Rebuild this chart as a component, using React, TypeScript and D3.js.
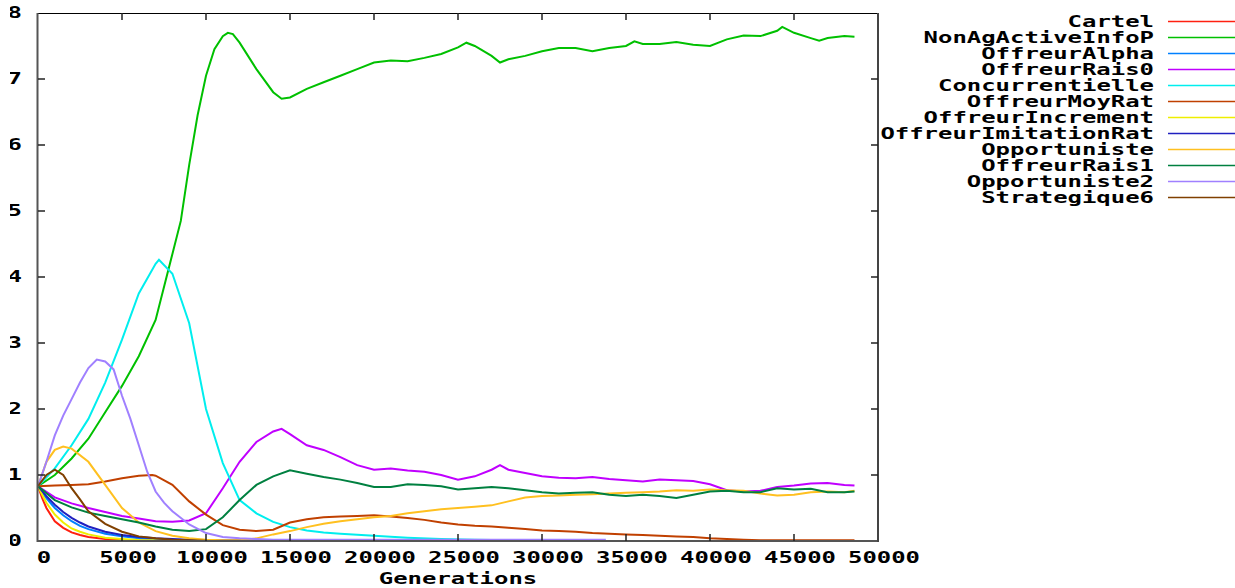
import React, { useEffect, useRef } from "react";
import * as d3 from "d3";

// series: [generation, value]
const cartel = [[0, 0.83], [250, 0.65], [500, 0.5], [1000, 0.3], [1500, 0.2], [2000, 0.13], [2500, 0.09], [3000, 0.06], [4000, 0.03], [5000, 0.015], [6000, 0.008], [7000, 0.004]];
const nonAgActiveInfoP = [[0, 0.83], [1000, 1.0], [2000, 1.25], [3000, 1.55], [4000, 1.95], [5000, 2.35], [6000, 2.8], [7000, 3.35], [8000, 4.35], [8500, 4.85], [9000, 5.7], [9500, 6.45], [10000, 7.05], [10500, 7.45], [11000, 7.65], [11300, 7.7], [11600, 7.68], [12000, 7.55], [13000, 7.15], [14000, 6.8], [14500, 6.7], [15000, 6.72], [16000, 6.85], [17000, 6.95], [18000, 7.05], [19000, 7.15], [20000, 7.25], [21000, 7.28], [22000, 7.27], [23000, 7.32], [24000, 7.38], [25000, 7.48], [25500, 7.55], [26000, 7.5], [27000, 7.35], [27500, 7.25], [28000, 7.3], [29000, 7.35], [30000, 7.42], [31000, 7.47], [32000, 7.47], [33000, 7.42], [34000, 7.47], [35000, 7.5], [35500, 7.57], [36000, 7.53], [37000, 7.53], [38000, 7.56], [39000, 7.52], [40000, 7.5], [41000, 7.6], [42000, 7.66], [43000, 7.65], [44000, 7.73], [44300, 7.79], [45000, 7.7], [46000, 7.62], [46500, 7.58], [47000, 7.62], [48000, 7.65], [48600, 7.64]];
const offreurAlpha = [[0, 0.83], [500, 0.65], [1000, 0.5], [1500, 0.39], [2000, 0.3], [2500, 0.23], [3000, 0.18], [4000, 0.11], [5000, 0.07], [6000, 0.04], [7000, 0.025], [8000, 0.015], [9000, 0.01], [10000, 0.005]];
const offreurRais0 = [[0, 0.83], [1000, 0.66], [2000, 0.57], [3000, 0.5], [4000, 0.44], [5000, 0.38], [6000, 0.34], [7000, 0.3], [8000, 0.29], [9000, 0.31], [10000, 0.42], [11000, 0.8], [12000, 1.2], [13000, 1.5], [14000, 1.66], [14500, 1.7], [15000, 1.62], [16000, 1.45], [17000, 1.38], [18000, 1.27], [19000, 1.15], [20000, 1.08], [21000, 1.1], [22000, 1.07], [23000, 1.05], [24000, 1.0], [25000, 0.93], [26000, 0.98], [27000, 1.08], [27500, 1.15], [28000, 1.08], [29000, 1.03], [30000, 0.98], [31000, 0.96], [32000, 0.95], [33000, 0.97], [34000, 0.94], [35000, 0.92], [36000, 0.9], [37000, 0.93], [38000, 0.92], [39000, 0.91], [40000, 0.86], [41000, 0.77], [42000, 0.75], [43000, 0.76], [44000, 0.82], [45000, 0.84], [46000, 0.87], [47000, 0.88], [48000, 0.85], [48600, 0.84]];
const concurrentielle = [[0, 0.83], [1000, 1.1], [2000, 1.45], [3000, 1.85], [4000, 2.4], [5000, 3.05], [6000, 3.75], [7000, 4.2], [7200, 4.26], [8000, 4.05], [9000, 3.3], [10000, 2.0], [11000, 1.18], [12000, 0.62], [13000, 0.42], [14000, 0.29], [15000, 0.21], [16000, 0.16], [17000, 0.13], [18000, 0.11], [20000, 0.08], [22000, 0.05], [24000, 0.03], [26000, 0.02], [28500, 0.01]];
const offreurMoyRat = [[0, 0.83], [1000, 0.84], [2000, 0.85], [3000, 0.86], [4000, 0.9], [5000, 0.95], [6000, 0.99], [6800, 1.0], [7000, 0.99], [8000, 0.85], [9000, 0.6], [10000, 0.4], [11000, 0.24], [12000, 0.17], [13000, 0.15], [14000, 0.17], [15000, 0.28], [16000, 0.33], [17000, 0.36], [18000, 0.37], [19000, 0.38], [20000, 0.39], [21000, 0.37], [22000, 0.35], [23000, 0.32], [24000, 0.28], [25000, 0.25], [26000, 0.23], [27000, 0.22], [28000, 0.2], [29000, 0.18], [30000, 0.16], [31000, 0.15], [32000, 0.14], [33000, 0.12], [34000, 0.11], [35000, 0.1], [36000, 0.09], [37000, 0.08], [38000, 0.07], [39000, 0.06], [40000, 0.04], [41000, 0.03], [42000, 0.02], [43000, 0.01], [48600, 0.01]];
const offreurIncrement = [[0, 0.83], [250, 0.7], [500, 0.58], [1000, 0.4], [1500, 0.28], [2000, 0.19], [2500, 0.14], [3000, 0.1], [4000, 0.05], [5000, 0.03], [6000, 0.015], [7000, 0.01], [8000, 0.005]];
const offreurImitationRat = [[0, 0.83], [500, 0.68], [1000, 0.55], [1500, 0.44], [2000, 0.35], [2500, 0.28], [3000, 0.22], [4000, 0.14], [5000, 0.09], [6000, 0.06], [7000, 0.04], [8000, 0.03], [9000, 0.02], [10000, 0.015], [11000, 0.01], [15000, 0.01]];
const opportuniste = [[0, 0.83], [500, 1.2], [1000, 1.38], [1500, 1.43], [2000, 1.4], [3000, 1.2], [4000, 0.85], [5000, 0.5], [6000, 0.28], [7000, 0.15], [8000, 0.08], [9000, 0.04], [10000, 0.02], [11000, 0.01], [12000, 0.01], [13000, 0.04], [14000, 0.1], [15000, 0.15], [16000, 0.21], [17000, 0.26], [18000, 0.3], [19000, 0.33], [20000, 0.36], [21000, 0.38], [22000, 0.42], [23000, 0.45], [24000, 0.48], [25000, 0.5], [26000, 0.52], [27000, 0.54], [28000, 0.6], [29000, 0.66], [30000, 0.68], [31000, 0.69], [32000, 0.7], [33000, 0.71], [34000, 0.72], [35000, 0.73], [36000, 0.74], [37000, 0.75], [38000, 0.77], [39000, 0.76], [40000, 0.78], [41000, 0.77], [42000, 0.76], [43000, 0.72], [44000, 0.69], [45000, 0.7], [46000, 0.74], [47000, 0.75], [48000, 0.74], [48600, 0.76]];
const offreurRais1 = [[0, 0.83], [1000, 0.62], [2000, 0.51], [3000, 0.43], [4000, 0.38], [5000, 0.33], [6000, 0.28], [7000, 0.22], [8000, 0.17], [9000, 0.15], [10000, 0.18], [11000, 0.36], [12000, 0.62], [13000, 0.85], [14000, 0.98], [15000, 1.07], [16000, 1.02], [17000, 0.97], [18000, 0.93], [19000, 0.88], [20000, 0.82], [21000, 0.82], [22000, 0.86], [23000, 0.85], [24000, 0.83], [25000, 0.78], [26000, 0.8], [27000, 0.82], [28000, 0.8], [29000, 0.77], [30000, 0.74], [31000, 0.72], [32000, 0.73], [33000, 0.74], [34000, 0.7], [35000, 0.68], [36000, 0.7], [37000, 0.68], [38000, 0.65], [39000, 0.7], [40000, 0.75], [41000, 0.76], [42000, 0.74], [43000, 0.74], [44000, 0.8], [45000, 0.78], [46000, 0.79], [47000, 0.74], [48000, 0.74], [48600, 0.75]];
const opportuniste2 = [[0, 0.83], [500, 1.2], [1000, 1.6], [1500, 1.9], [2000, 2.15], [2500, 2.4], [3000, 2.62], [3500, 2.75], [4000, 2.72], [4500, 2.6], [5000, 2.2], [5500, 1.85], [6000, 1.45], [6500, 1.05], [7000, 0.75], [7500, 0.58], [8000, 0.45], [9000, 0.25], [10000, 0.12], [11000, 0.06], [12000, 0.04], [13000, 0.03], [14000, 0.02], [33800, 0.02]];
const strategique6 = [[0, 0.83], [500, 1.0], [1000, 1.08], [1500, 1.0], [2000, 0.8], [2500, 0.63], [3000, 0.45], [4000, 0.26], [5000, 0.14], [6000, 0.07], [7000, 0.04], [8000, 0.02], [9000, 0.01], [10000, 0.005]];

const seriesNames = ["Cartel", "NonAgActiveInfoP", "OffreurAlpha", "OffreurRais0", "Concurrentielle", "OffreurMoyRat", "OffreurIncrement", "OffreurImitationRat", "Opportuniste", "OffreurRais1", "Opportuniste2", "Strategique6"];
const seriesData = [cartel, nonAgActiveInfoP, offreurAlpha, offreurRais0, concurrentielle, offreurMoyRat, offreurIncrement, offreurImitationRat, opportuniste, offreurRais1, opportuniste2, strategique6];
const colors = ["#ff2010", "#00c000", "#0080ff", "#c000ff", "#00eeee", "#c04000", "#eeee00", "#2020c0", "#ffc020", "#008040", "#a080ff", "#804000"];

const xTicks = [0, 5000, 10000, 15000, 20000, 25000, 30000, 35000, 40000, 45000, 50000];
const yTicks = [0, 1, 2, 3, 4, 5, 6, 7, 8];

const FONT = "'DejaVu Sans Mono', monospace";
const CHAR_W = 14.4;

export default function App() {
  const ref = useRef<SVGSVGElement>(null);

  useEffect(() => {
    const svg = d3.select(ref.current);
    svg.selectAll("*").remove();

    const left = 38, right = 878, top = 13, bottom = 541;
    const x = d3.scaleLinear().domain([0, 50000]).range([left, right]);
    const y = d3.scaleLinear().domain([0, 8]).range([bottom, top]);

    // y labels are cut at the left edge in the original
    svg.append("defs").append("clipPath").attr("id", "ylab-clip")
      .append("rect").attr("x", 10).attr("y", 0).attr("width", 30).attr("height", 588);

    const label = (g: any, txt: string, px: number, py: number, anchor: string) =>
      g.append("text")
        .attr("x", px).attr("y", py)
        .attr("text-anchor", anchor)
        .attr("font-family", FONT)
        .attr("font-weight", "bold")
        .attr("font-size", 15)
        .attr("textLength", txt.length * CHAR_W)
        .attr("lengthAdjust", "spacingAndGlyphs")
        .text(txt);

    // lines
    const line = d3.line<number[]>().x(d => x(d[0])).y(d => y(d[1]));
    svg.append("g").selectAll("path").data(seriesData).join("path")
      .attr("d", d => line(d as number[][]))
      .attr("fill", "none")
      .attr("stroke", (d, i) => colors[i])
      .attr("stroke-width", 2)
      .attr("stroke-linejoin", "miter");

    // border
    const border = svg.append("g");
    border.append("line").attr("x1", left).attr("x2", right).attr("y1", top + 0.5).attr("y2", top + 0.5).attr("stroke", "#000").attr("stroke-width", 1.2);
    border.append("line").attr("x1", left).attr("x2", right).attr("y1", bottom).attr("y2", bottom).attr("stroke", "#555").attr("stroke-width", 2);
    border.append("line").attr("x1", left - 0.5).attr("x2", left - 0.5).attr("y1", top).attr("y2", bottom + 1).attr("stroke", "#555").attr("stroke-width", 2);
    border.append("line").attr("x1", right).attr("x2", right).attr("y1", top).attr("y2", bottom + 1).attr("stroke", "#444").attr("stroke-width", 2);

    // ticks (mirrored, inward)
    const tl = 7;
    xTicks.slice(1, -1).forEach(t => {
      border.append("line").attr("x1", x(t)).attr("x2", x(t)).attr("y1", bottom).attr("y2", bottom - tl).attr("stroke", "#222").attr("stroke-width", 1.5);
      border.append("line").attr("x1", x(t)).attr("x2", x(t)).attr("y1", top).attr("y2", top + tl).attr("stroke", "#222").attr("stroke-width", 1.5);
    });
    yTicks.slice(1, -1).forEach(t => {
      border.append("line").attr("x1", left).attr("x2", left + tl).attr("y1", y(t)).attr("y2", y(t)).attr("stroke", "#222").attr("stroke-width", 1.5);
      border.append("line").attr("x1", right).attr("x2", right - tl).attr("y1", y(t)).attr("y2", y(t)).attr("stroke", "#222").attr("stroke-width", 1.5);
    });

    // tick labels
    const xl = svg.append("g");
    xTicks.forEach(t => label(xl, String(t), x(t) + 6, 563, "middle"));
    const yl = svg.append("g").attr("clip-path", "url(#ylab-clip)");
    yTicks.forEach(t => label(yl, String(t), 22, y(t) + 5, "end"));
    label(svg, "Generations", 458, 584, "middle");

    // legend
    const lg = svg.append("g");
    seriesNames.forEach((name, i) => {
      const ly = 21.5 + i * 16;
      label(lg, name, 1154, ly + 5.5, "end");
      lg.append("line").attr("x1", 1168).attr("x2", 1240).attr("y1", ly).attr("y2", ly)
        .attr("stroke", colors[i]).attr("stroke-width", 1.5);
    });
  }, []);

  return (
    <svg ref={ref} width={1235} height={588}
      style={{ position: "absolute", left: 0, top: 0, background: "#fff" }} />
  );
}
